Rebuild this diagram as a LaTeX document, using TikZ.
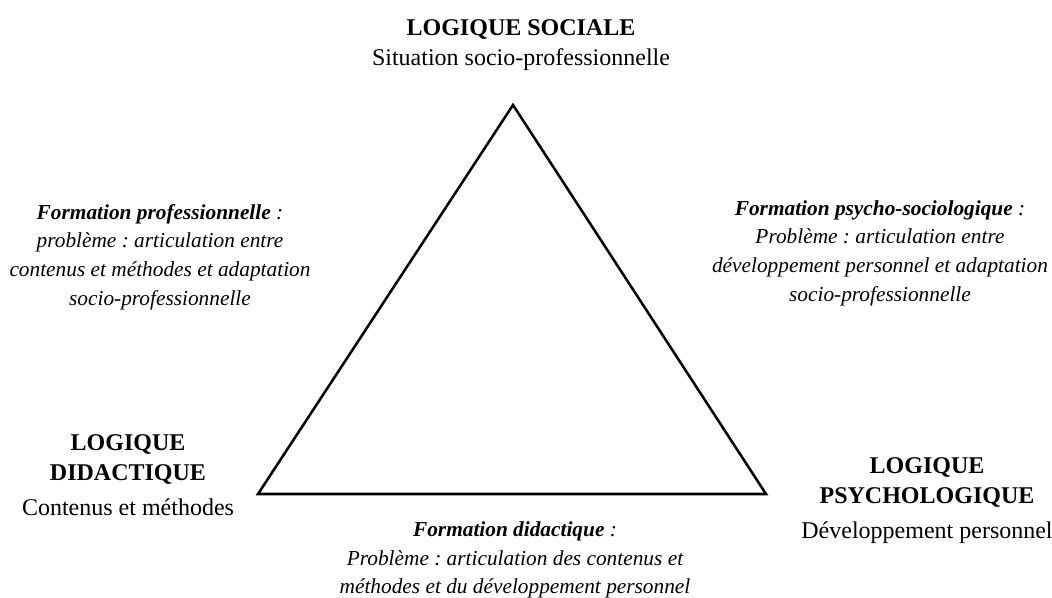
\documentclass[tikz,border=0pt]{standalone}
\usepackage{fontspec}
\setmainfont{Liberation Serif}
\usepackage{tikz}
\frenchspacing

\tikzset{
  txt/.style={align=center, font=\fontsize{18}{23}\selectfont, inner sep=0pt, anchor=north},
  itxt/.style={align=center, font=\fontsize{16}{21.5}\selectfont\itshape, inner sep=0pt},
}

\begin{document}
\begin{tikzpicture}[x=0.75pt, y=-0.75pt]
				\useasboundingbox (0,0) rectangle (1052,597);
				% Triangle vertices:
				\coordinate (S) at (513, 105);
				\coordinate (D) at (258, 494);
				\coordinate (P) at (766, 494);
				\draw[line width=1.9pt, line join=miter] (S) -- (D) -- (P) -- cycle;
				% Poles:
				\node[txt](N1) at (521, 19){\textbf{LOGIQUE SOCIALE}\\Situation socio-professionnelle};
				\node[txt](N2) at (128, 434){\textbf{LOGIQUE}\\\textbf{DIDACTIQUE}\\[3.25pt]Contenus et méthodes};
				\node[txt](N3) at (927, 457){\textbf{LOGIQUE}\\\textbf{PSYCHOLOGIQUE}\\[3.25pt]Développement personnel};
				% Formations:
				\node[itxt](F1) at (160, 257){\textbf{Formation professionnelle} :\\problème : articulation entre\\contenus et méthodes et adaptation\\socio-professionnelle};
				\node[itxt](F2) at (880, 253){\textbf{Formation psycho-sociologique} :\\Problème : articulation entre\\développement personnel et adaptation\\socio-professionnelle};
				\node[itxt](F3) at (515, 560){\textbf{Formation didactique} :\\Problème : articulation des contenus et\\méthodes et du développement personnel};
			\end{tikzpicture}
\end{document}
